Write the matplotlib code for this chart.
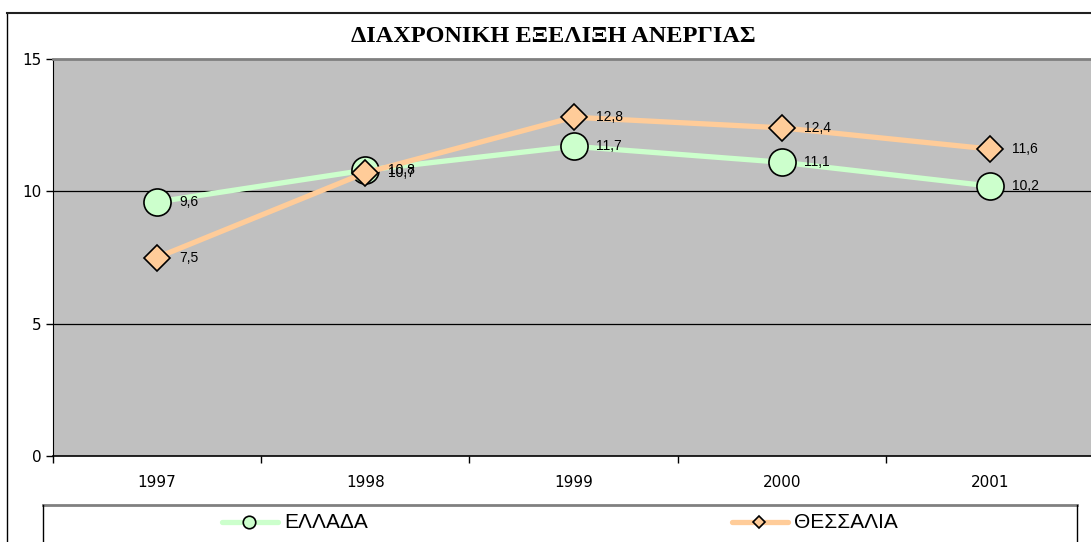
import matplotlib
matplotlib.use("Agg")
import matplotlib.pyplot as plt
from matplotlib.lines import Line2D
import numpy as np

# data
years = ["1997", "1998", "1999", "2000", "2001"]
series_names = ["ΕΛΛΑΔΑ", "ΘΕΣΣΑΛΙΑ"]
ellada = [9.6, 10.8, 11.7, 11.1, 10.2]
thessalia = [7.5, 10.7, 12.8, 12.4, 11.6]
y_ticks = [0, 5, 10, 15]
title = "ΔΙΑΧΡΟΝΙΚΗ ΕΞΕΛΙΞΗ ΑΝΕΡΓΙΑΣ"

W, H = 1091, 542
fig = plt.figure(figsize=(W / 100, H / 100), dpi=100)


def fx(x):
    return x / W


def fy(y):
    return 1 - y / H


# plot area in pixels
L, R, T, B = 53, 1094, 59, 456
ax = fig.add_axes([fx(L), fy(B), fx(R - L), (B - T) / H])
ax.set_facecolor("#C0C0C0")

x = np.arange(len(years))
styles = [
    dict(color="#CCFFCC", marker="o", ms=19.5, values=ellada),
    dict(color="#FFCC99", marker="D", ms=13.5, values=thessalia),
]
for name, st in zip(series_names, styles):
    ax.plot(x, st["values"], color=st["color"], lw=3.8, marker=st["marker"],
            ms=st["ms"], mfc=st["color"], mec="black", mew=1.2,
            solid_capstyle="butt", zorder=3, label=name)
    for xi, v in zip(x, st["values"]):
        ax.annotate(f"{v:.1f}".replace(".", ","), (xi, v), xytext=(16, 0),
                    textcoords="offset points", va="center", ha="left",
                    fontsize=10, family="Liberation Sans", zorder=4)

ax.set_xlim(-0.5, len(years) - 0.5)
ax.set_ylim(0, 15)
ax.set_yticks(y_ticks)
ax.set_yticklabels([str(t) for t in y_ticks], fontsize=11, family="DejaVu Sans")
ax.set_xticks(x)
ax.set_xticklabels(years, fontsize=11, family="DejaVu Sans")
ax.set_xticks(np.arange(-0.5, len(years), 1), minor=True)
ax.tick_params(axis="x", which="major", length=0, pad=14)
ax.tick_params(axis="x", which="minor", length=5, width=1, direction="out")
ax.tick_params(axis="y", length=5, width=1, direction="out", pad=3)
for yv in [5, 10]:
    ax.axhline(yv, color="black", lw=0.9, zorder=1)

ax.spines["left"].set_color("black")
ax.spines["bottom"].set_color("black")
ax.spines["bottom"].set_linewidth(1.2)
ax.spines["top"].set_color("#808080")
ax.spines["top"].set_linewidth(2)
ax.spines["right"].set_visible(False)

# title
fig.text(fx(553), fy(36), title, ha="center", va="center", fontsize=17.5,
         fontweight="bold", family="Liberation Serif")

# outer chart border (continues past right/bottom edge)
fig.add_artist(Line2D([fx(7), fx(7)], [fy(13), fy(560)], color="black", lw=1,
                      transform=fig.transFigure))
fig.add_artist(Line2D([fx(7), fx(1100)], [fy(13), fy(13)], color="#202020", lw=1.5,
                      transform=fig.transFigure))

# legend box
fig.add_artist(Line2D([fx(43), fx(1077)], [fy(505), fy(505)], color="#808080", lw=2,
                      transform=fig.transFigure))
fig.add_artist(Line2D([fx(43), fx(43)], [fy(505), fy(560)], color="black", lw=1,
                      transform=fig.transFigure))
fig.add_artist(Line2D([fx(1077), fx(1077)], [fy(505), fy(560)], color="black", lw=1,
                      transform=fig.transFigure))

leg_pos = [(222, 278, 249, 284), (732, 788, 759, 794)]
leg_ms = [9, 6.5]
ly = 522
for name, st, (x0, x1, xm, xt), ms in zip(series_names, styles, leg_pos, leg_ms):
    fig.add_artist(Line2D([fx(x0), fx(x1)], [fy(ly), fy(ly)], color=st["color"], lw=3.8,
                          solid_capstyle="round", transform=fig.transFigure))
    fig.add_artist(Line2D([fx(xm)], [fy(ly)], marker=st["marker"], ms=ms,
                          mfc=st["color"], mec="black", mew=1.2, lw=0,
                          transform=fig.transFigure))
    fig.text(fx(xt), fy(ly), name, ha="left", va="center", fontsize=15,
             family="Liberation Sans")

fig.savefig("out.png", dpi=100)
